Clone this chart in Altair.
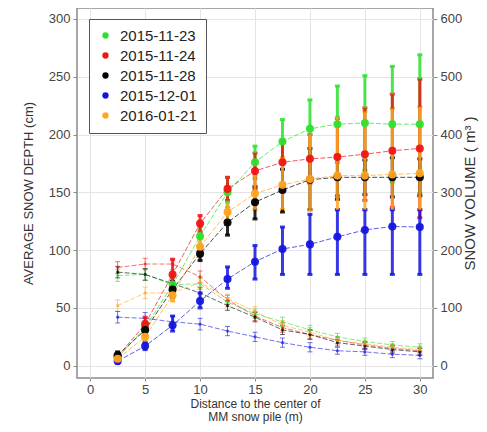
import altair as alt
import pandas as pd

distance = [2.5, 5, 7.5, 10, 12.5, 15, 17.5, 20, 22.5, 25, 27.5, 30]
dates = ["2015-11-23", "2015-11-24", "2015-11-28", "2015-12-01", "2016-01-21"]
colors = ["#2ee02e", "#f01515", "#000000", "#1515e0", "#ffa522"]

# Snow volume (m^3), right axis: centre, lower, upper
vol = {
    "2015-11-23": [14, 66, 140, 224, 300, 352, 388, 410, 418, 420, 418, 418],
    "2015-11-24": [16, 72, 158, 246, 306, 337, 352, 358, 361, 366, 372, 376],
    "2015-11-28": [18, 62, 132, 194, 248, 283, 304, 322, 326, 326, 326, 326],
    "2015-12-01": [8, 34, 70, 112, 150, 180, 202, 210, 223, 235, 241, 240],
    "2016-01-21": [12, 50, 122, 206, 266, 298, 313, 323, 329, 329, 331, 333],
}
vol_lo = {
    "2015-11-23": [8, 56, 124, 208, 274, 324, 350, 360, 352, 338, 318, 298],
    "2015-11-24": [10, 60, 132, 232, 286, 306, 314, 316, 294, 286, 274, 256],
    "2015-11-28": [12, 54, 118, 182, 226, 254, 266, 270, 288, 296, 292, 294],
    "2015-12-01": [4, 28, 60, 100, 134, 150, 158, 158, 158, 158, 158, 158],
    "2016-01-21": [6, 42, 112, 192, 250, 270, 270, 270, 270, 270, 270, 270],
}
vol_hi = {
    "2015-11-23": [20, 76, 156, 240, 326, 380, 426, 460, 484, 502, 518, 538],
    "2015-11-24": [22, 84, 184, 260, 326, 368, 390, 400, 428, 446, 470, 496],
    "2015-11-28": [24, 70, 146, 206, 266, 310, 340, 376, 364, 356, 360, 358],
    "2015-12-01": [12, 40, 86, 126, 171, 208, 240, 262, 270, 270, 270, 270],
    "2016-01-21": [18, 58, 134, 220, 282, 330, 360, 400, 430, 440, 445, 448],
}

# Average snow depth (cm), left axis
depth = {
    "2015-11-23": [78, 79, 70, 71, 55, 45, 38, 31, 25, 21, 18, 16],
    "2015-11-24": [85, 88, 88, 77, 57, 43, 33, 27, 22, 18, 15, 13],
    "2015-11-28": [81, 79, 71, 63, 52, 42, 31, 27, 20, 17, 14, 12],
    "2015-12-01": [42, 41, 38, 36, 30, 25, 20, 16, 13, 12, 10, 9],
    "2016-01-21": [52, 63, 63, 72, 58, 47, 35, 29, 22, 19, 16, 14],
}
depth_err = [5, 5, 5, 5, 4, 4, 4, 4, 3, 3, 3, 3]

vrows, drows = [], []
for d in dates:
    for i, x in enumerate(distance):
        vrows.append({"distance": x, "date": d, "value": vol[d][i],
                      "lo": vol_lo[d][i], "hi": vol_hi[d][i]})
        drows.append({"distance": x, "date": d, "value": depth[d][i],
                      "lo": depth[d][i] - depth_err[i], "hi": depth[d][i] + depth_err[i]})
vdf = pd.DataFrame(vrows)
ddf = pd.DataFrame(drows)

FONT = "Liberation Sans"

xenc = alt.X("distance:Q",
             scale=alt.Scale(domain=[-1.2, 31.2], nice=False, zero=False),
             axis=alt.Axis(values=[0, 5, 10, 15, 20, 25, 30], grid=True,
                           title=["Distance to the center of", "MM snow pile (m)"],
                           titleFontSize=12, titlePadding=2, titleLineHeight=13,
                           labelFontSize=13, tickSize=3, labelPadding=2))

legend = alt.Legend(title=None, orient="none", legendX=12, legendY=11,
                    symbolType="circle", symbolSize=40,
                    labelFontSize=15, labelColor="#222",
                    labelFont=FONT, rowPadding=4,
                    padding=9, strokeColor="#555",
                    fillColor="white", symbolStrokeWidth=0,
                    symbolOpacity=1, labelOffset=7, offset=0)
color_enc = alt.Color("date:N", scale=alt.Scale(domain=dates, range=colors), legend=legend)

dscale = alt.Scale(domain=[-10.6, 309.5], nice=False, zero=False)
vscale = alt.Scale(domain=[-21.2, 619], nice=False, zero=False)

yd_axis = alt.Axis(values=[0, 50, 100, 150, 200, 250, 300], grid=True, orient="left",
                   title="AVERAGE SNOW DEPTH (cm)", titleFontSize=13,
                   labelFontSize=13, titlePadding=13, tickSize=4, labelPadding=3)
yv_axis = alt.Axis(values=[0, 100, 200, 300, 400, 500, 600], grid=False, orient="right",
                   title="SNOW VOLUME ( m³ )", titleFontSize=15, titleAngle=270,
                   labelFontSize=13, titlePadding=16, tickSize=4, labelPadding=3)

dbase = alt.Chart(ddf)
d_lines = dbase.mark_line(strokeWidth=1, strokeDash=[5, 2], opacity=0.6).encode(
    x=xenc, y=alt.Y("value:Q", scale=dscale, axis=yd_axis), color=color_enc, detail="date:N")
d_bars = dbase.mark_errorbar(ticks=True, thickness=1, opacity=0.6).encode(
    x=xenc, y=alt.Y("lo:Q", scale=dscale, axis=yd_axis), y2="hi:Q", color=color_enc)
d_pts = dbase.mark_circle(size=10, opacity=0.7).encode(
    x=xenc, y=alt.Y("value:Q", scale=dscale, axis=yd_axis), color=color_enc)
depth_layer = alt.layer(d_lines, d_bars, d_pts)

vbase = alt.Chart(vdf)
v_lines = vbase.mark_line(strokeWidth=1, strokeDash=[5, 2], opacity=0.7).encode(
    x=xenc, y=alt.Y("value:Q", scale=vscale, axis=yv_axis), color=color_enc, detail="date:N")
v_bars = vbase.mark_errorbar(ticks=True, thickness=3, opacity=0.85).encode(
    x=xenc, y=alt.Y("lo:Q", scale=vscale, axis=yv_axis), y2="hi:Q", color=color_enc)
v_pts = vbase.mark_circle(size=65, opacity=0.95).encode(
    x=xenc, y=alt.Y("value:Q", scale=vscale, axis=yv_axis), color=color_enc)
vol_layer = alt.layer(v_lines, v_bars, v_pts)

chart = alt.layer(depth_layer, vol_layer).resolve_scale(y="independent").properties(
    width=356, height=370, autosize="none",
    padding={"left": 69, "top": 0, "right": 46, "bottom": 46},
    background="white",
).configure_view(stroke="#8a8a8a", strokeWidth=1.5).configure_axis(
    domain=False, tickColor="#8a8a8a", labelColor="#444", titleColor="#333",
    labelFont=FONT, titleFont=FONT, titleFontWeight="normal", gridColor="#e4e4e4",
)

chart.save("out.html", embed_options={"renderer": "svg", "actions": False})
